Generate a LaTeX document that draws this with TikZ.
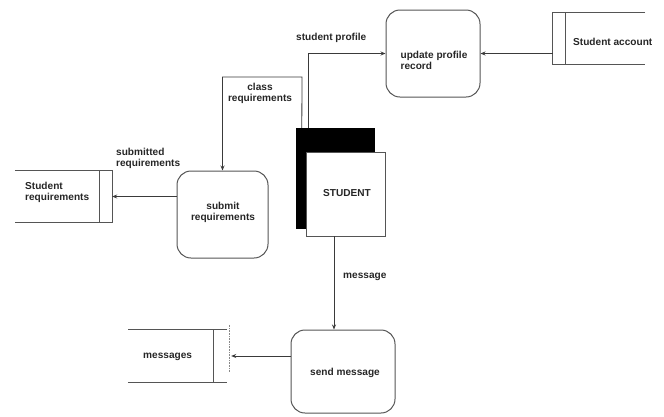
\documentclass[tikz,border=0pt]{standalone}
\usepackage{fontspec}
\setmainfont{Liberation Sans}
\usetikzlibrary{arrows.meta,calc}
\definecolor{ln}{HTML}{3A3A3A}
\definecolor{bx}{HTML}{555555}
\tikzset{
  proc/.style={draw=bx, line width=1pt, rounded corners=14pt, rectangle, inner sep=0pt},
  txt/.style={font=\fontsize{10.1}{11}\selectfont\bfseries, text=black!85, inner sep=0pt},
  storebox/.style={rectangle, inner sep=0pt},
  arr/.style={draw=ln, line width=0.8pt, -{Stealth[length=5pt,width=4pt]}},
  sline/.style={draw=bx, line width=1pt}
}
\begin{document}
\begin{tikzpicture}[x=1pt,y=-1pt]
\useasboundingbox (0,0) rectangle (664,416);
% processes
\node[proc, minimum width=94pt, minimum height=87pt] (upd) at (433,53.5) {};
\node[txt, align=left] (updt) at (434,60) {update profile\\record};
\node[proc, minimum width=91pt, minimum height=87pt] (sub) at (222.5,214.5) {};
\node[txt, align=center] (subt) at (223,212.5) {submit\\requirements};
\node[proc, minimum width=104pt, minimum height=83pt] (snd) at (343,371.5) {};
\node[txt] (sndt) at (345,373) {send message};
% external entity STUDENT
\node[rectangle, fill=black, draw=black, minimum width=78pt, minimum height=100pt, inner sep=0pt] (shd) at (335,178) {};
\node[rectangle, fill=white, draw=bx, line width=0.9pt, minimum width=79pt, minimum height=84pt, inner sep=0pt] (stu) at (345.5,194) {};
\node[txt] (stut) at (347,193) {STUDENT};
% data stores
\node[storebox, minimum width=92pt, minimum height=51pt] (acc) at (599,38.5) {};
\draw[sline] (acc.north east) -- (acc.north west) -- (acc.south west) -- (acc.south east);
\draw[sline] ([xshift=13pt]acc.north west) -- ([xshift=13pt]acc.south west);
\node[txt, anchor=west] (acct) at (573,42) {Student account};
\node[storebox, minimum width=97pt, minimum height=51pt] (sreq) at (63.5,196.5) {};
\draw[sline] (sreq.north west) -- (sreq.north east) -- (sreq.south east) -- (sreq.south west);
\draw[sline] ([xshift=-13pt]sreq.north east) -- ([xshift=-13pt]sreq.south east);
\node[txt, anchor=west, align=left] (sreqt) at (25,192.5) {Student\\requirements};
\node[storebox, minimum width=99pt, minimum height=52pt] (msgs) at (177.5,356) {};
\draw[sline] (msgs.north east) -- (msgs.north west);
\draw[sline] (msgs.south west) -- (msgs.south east);
\draw[sline] ([xshift=-14pt]msgs.north east) -- ([xshift=-14pt]msgs.south east);
\draw[bx!70, line width=0.6pt, densely dotted] ([xshift=2pt,yshift=5pt]msgs.north east) -- ([xshift=2pt,yshift=-16pt]msgs.east);
\node[txt, anchor=west] (msgst) at (143,357) {messages};
% connectors
\draw[arr] (acc.west |- upd.east) -- (upd.east);
\coordinate (sp) at ([xshift=13pt]shd.north west);
\draw[arr] (sp) |- (upd.west);
\node[txt, anchor=west] (spl) at (296,38) {student profile};
\coordinate (cr) at ([xshift=6pt]shd.north west);
\coordinate (crtop) at (302,77);
\draw[arr] (cr) -- (crtop) -| (sub.north);
\node[txt, align=center] (crl) at (260,93.5) {class\\requirements};
\draw[arr] (sub.west |- sreq.east) -- (sreq.east);
\node[txt, anchor=west, align=left] (srl) at (116,158) {submitted\\requirements};
\coordinate (ms) at ([xshift=-11.5pt]stu.south);
\draw[arr] (ms) -- (ms |- snd.north);
\node[txt, anchor=west] (msl) at (343,277) {message};
\draw[arr] (snd.west |- msgs.east) -- ([xshift=4pt]msgs.east);
\end{tikzpicture}
\end{document}
